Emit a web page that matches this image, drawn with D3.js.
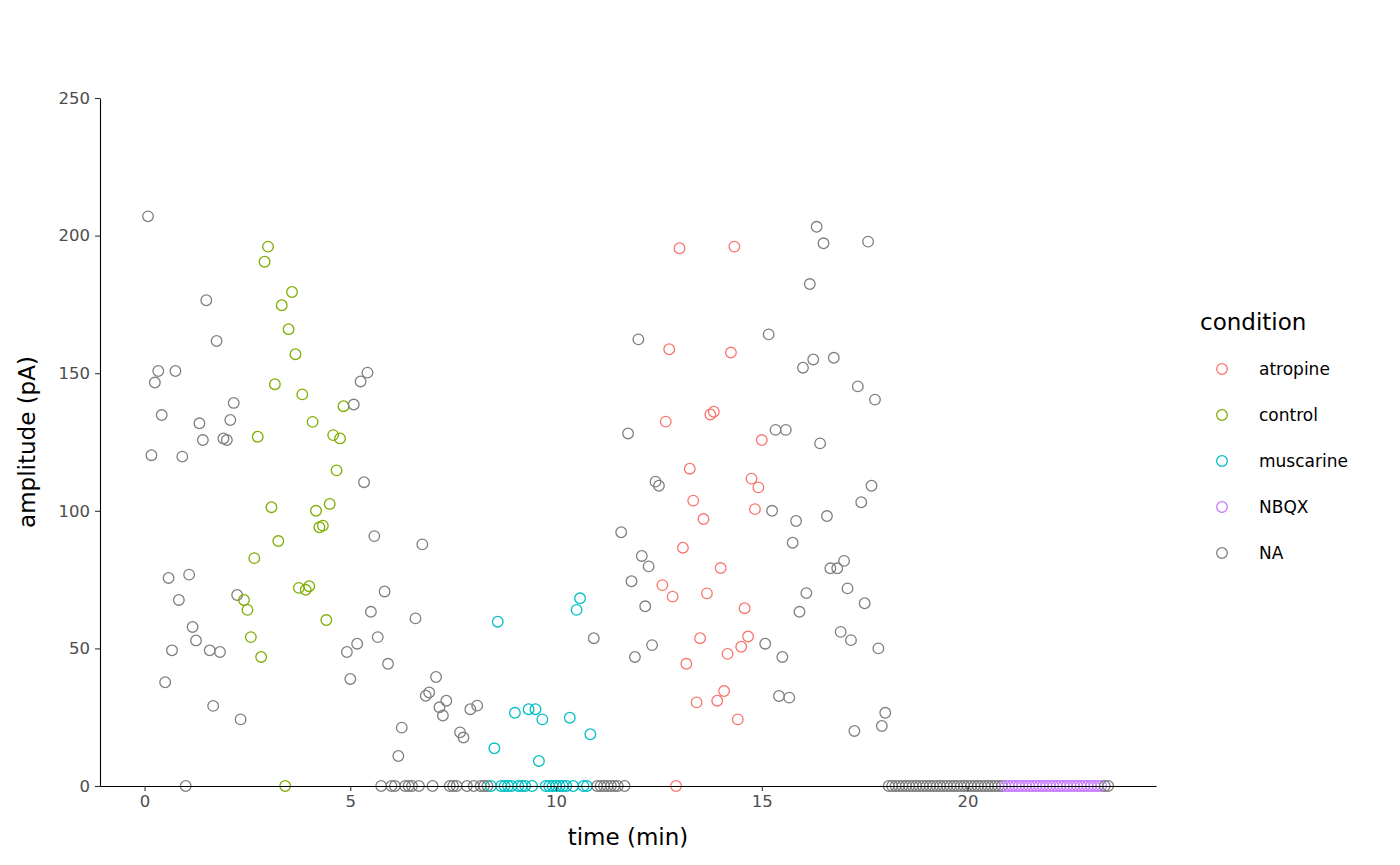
<!DOCTYPE html>
<html>
<head>
<meta charset="utf-8">
<script src="https://cdn.jsdelivr.net/npm/d3@7"></script>
<style>
  body { margin: 0; background: #fff; }
  svg text { font-family: "DejaVu Sans", sans-serif; }
</style>
</head>
<body>
<svg id="chart" width="1400" height="865"></svg>
<script>
// recording times, seconds from start
var timeSec = [
    5, 10, 15, 20, 25, 30, 35, 40, 45, 50, 55, 60, 65, 70, 75, 80, 85, 90, 95, 100,
  105,110,115,120,125,130,135,140,145,150,155,160,165,170,175,180,185,190,195,200,
  205,210,215,220,225,230,235,240,245,250,255,260,265,270,275,280,285,290,295,300,
  305,310,315,320,325,330,335,340,345,350,355,360,365,370,375,380,385,390,395,400,
  405,410,415,420,425,430,435,440,445,450,455,460,465,470,475,480,485,490,495,500,
  505,510,515,520,525,530,535,540,545,550,555,560,565,570,575,580,585,590,595,600,
  605,610,615,620,625,630,635,640,645,650,655,660,665,670,675,680,685,690,695,700,
  705,710,715,720,725,730,735,740,745,750,755,760,765,770,775,780,785,790,795,800,
  805,810,815,820,825,830,835,840,845,850,855,860,865,870,875,880,885,890,895,900,
  905,910,915,920,925,930,935,940,945,950,955,960,965,970,975,980,985,990,995,1000,
  1005,1010,1015,1020,1025,1030,1035,1040,1045,1050,1055,1060,1065,1070,1075,1080,1085,1090,1095,1100,
  1105,1110,1115,1120,1125,1130,1135,1140,1145,1150,1155,1160,1165,1170,1175,1180,1185,1190,1195,1200,
  1205,1210,1215,1220,1225,1230,1235,1240,1245,1250,1255,1260,1265,1270,1275,1280,1285,1290,1295,1300,
  1305,1310,1315,1320,1325,1330,1335,1340,1345,1350,1355,1360,1365,1370,1375,1380,1385,1390,1395,1400,
  1405
];

// event amplitude (pA)
var amplitude = [
  207, 120.2, 146.6, 150.8, 134.8, 37.7, 75.6, 49.3, 150.8, 67.6,
  119.7, 0, 76.8, 57.8, 52.9, 131.8, 125.7, 176.5, 49.3, 29.1,
  161.7, 48.7, 126.3, 125.7, 133, 139.2, 69.4, 24.2, 67.6, 64,
  54.1, 82.8, 126.9, 46.9, 190.5, 196, 101.3, 146, 89, 174.7,
  0, 166, 179.5, 156.9, 72, 142.3, 71.3, 72.6, 132.3, 100,
  94, 94.6, 60.3, 102.5, 127.5, 114.7, 126.3, 138, 48.7, 38.9,
  138.6, 51.7, 147, 110.4, 150.2, 63.3, 90.8, 54.1, 0, 70.7,
  44.4, 0, 0, 10.9, 21.2, 0, 0, 0, 60.9, 0,
  87.8, 32.8, 34, 0, 39.6, 28.6, 25.6, 31, 0, 0,
  0, 19.5, 17.6, 0, 27.9, 0, 29.2, 0, 0, 0,
  0, 13.7, 59.7, 0, 0, 0, 0, 26.6, 0, 0,
  0, 27.9, 0, 27.9, 9.1, 24.2, 0, 0, 0, 0,
  0, 0, 0, 24.8, 0, 64, 68.2, 0, 0, 18.8,
  53.7, 0, 0, 0, 0, 0, 0, 0, 92.2, 0,
  128.1, 74.4, 46.9, 162.3, 83.6, 65.3, 79.8, 51.2, 110.6, 109.1,
  73, 132.4, 158.7, 68.8, 0, 195.4, 86.6, 44.4, 115.3, 103.7,
  30.4, 53.7, 97, 70, 135, 136, 31, 79.2, 34.5, 48,
  157.5, 196, 24.2, 50.6, 64.6, 54.3, 111.7, 100.6, 108.5, 125.7,
  51.7, 164.1, 100, 129.4, 32.7, 46.9, 129.4, 32.1, 88.4, 96.3,
  63.3, 152, 70.1, 182.4, 155, 203.2, 124.5, 197.2, 98.1, 79.1,
  155.6, 79.1, 56, 81.8, 71.8, 53, 20, 145.2, 103.1, 66.4,
  197.8, 109.1, 140.4, 50, 21.8, 26.6, 0, 0, 0, 0,
  0, 0, 0, 0, 0, 0, 0, 0, 0, 0,
  0, 0, 0, 0, 0, 0, 0, 0, 0, 0,
  0, 0, 0, 0, 0, 0, 0, 0, 0, 0,
  0, 0, 0, 0, 0, 0, 0, 0, 0, 0,
  0, 0, 0, 0, 0, 0, 0, 0, 0, 0,
  0, 0, 0, 0, 0, 0, 0, 0, 0, 0,
  0
];

// condition of each event (null = NA)
var N = null, C = "control", M = "muscarine", A = "atropine", B = "NBQX";
var condition = [
  N,N,N,N,N,N,N,N,N,N, N,N,N,N,N,N,N,N,N,N, N,N,N,N,N,N,N,N,C,C,
  C,C,C,C,C,C,C,C,C,C, C,C,C,C,C,C,C,C,C,C, C,C,C,C,C,C,C,C,N,N,
  N,N,N,N,N,N,N,N,N,N, N,N,N,N,N,N,N,N,N,N, N,N,N,N,N,N,N,N,N,N,
  N,N,N,N,N,N,N,N,N,N, M,M,M,M,M,M,M,M,M,M, M,M,M,M,M,M,M,M,M,M,
  M,M,M,M,M,M,M,M,M,M, N,N,N,N,N,N,N,N,N,N, N,N,N,N,N,N,N,N,N,N,
  A,A,A,A,A,A,A,A,A,A, A,A,A,A,A,A,A,A,A,A, A,A,A,A,A,A,A,A,A,A,
  N,N,N,N,N,N,N,N,N,N, N,N,N,N,N,N,N,N,N,N, N,N,N,N,N,N,N,N,N,N,
  N,N,N,N,N,N,N,N,N,N, N,N,N,N,N,N,N,N,N,N, N,N,N,N,N,N,N,N,N,N,
  N,N,N,N,N,N,N,N,N,N, B,B,B,B,B,B,B,B,B,B, B,B,B,B,B,B,B,B,B,B,
  B,B,B,B,B,B,B,B,B,N, N
];

var legendLabels = ["atropine", "control", "muscarine", "NBQX", "NA"];
var legendColors = ["#F8766D", "#7CAE00", "#00BFC4", "#C77CFF", "#7F7F7F"];
var xTicks = [0, 5, 10, 15, 20];
var yTicks = [0, 50, 100, 150, 200, 250];

var svg = d3.select("#chart");

var panel = {left: 100, right: 1156, top: 98, bottom: 786};

// ggplot style 5% expansion on x, fixed 0-250 on y
var xScale = d3.scaleLinear().domain([-1.083, 24.58]).range([panel.left, panel.right]);
var yScale = d3.scaleLinear().domain([0, 250]).range([panel.bottom, panel.top]);

var colorOf = function (c) {
    if (c === null) return "#7F7F7F";
    return legendColors[legendLabels.indexOf(c)];
};

var points = timeSec.map(function (t, i) {
    return {minutes: t / 60, amp: amplitude[i], cond: condition[i]};
});

svg.append("g")
    .selectAll("circle")
    .data(points)
    .enter().append("circle")
    .attr("cx", function (d) { return xScale(d.minutes); })
    .attr("cy", function (d) { return yScale(d.amp); })
    .attr("r", 5.3)
    .attr("fill", "none")
    .attr("stroke", function (d) { return colorOf(d.cond); })
    .attr("stroke-width", 1.3);

var xAxis = svg.append("g")
    .attr("transform", "translate(0," + panel.bottom + ")")
    .call(d3.axisBottom(xScale).tickValues(xTicks).tickSize(5).tickSizeOuter(0).tickPadding(4));

var yAxis = svg.append("g")
    .attr("transform", "translate(" + panel.left + ",0)")
    .call(d3.axisLeft(yScale).tickValues(yTicks).tickSize(5).tickSizeOuter(0).tickPadding(5));

[xAxis, yAxis].forEach(function (ax) {
    ax.select(".domain").attr("stroke", "#000").attr("stroke-width", 1.1);
    ax.selectAll(".tick line").attr("stroke", "#333").attr("stroke-width", 1.1);
    ax.selectAll(".tick text").attr("fill", "#4D4D4D").style("font-size", "16.5px");
});

svg.append("text")
    .attr("x", (panel.left + panel.right) / 2)
    .attr("y", 845)
    .attr("text-anchor", "middle")
    .style("font-size", "23px")
    .text("time (min)");

svg.append("text")
    .attr("transform", "translate(35," + ((panel.top + panel.bottom) / 2) + ") rotate(-90)")
    .attr("text-anchor", "middle")
    .style("font-size", "23px")
    .text("amplitude (pA)");

// legend
var legend = svg.append("g").attr("transform", "translate(1200,0)");
legend.append("text")
    .attr("x", 0).attr("y", 330)
    .style("font-size", "23px")
    .text("condition");

var keys = legend.selectAll("g.key")
    .data(legendLabels)
    .enter().append("g")
    .attr("class", "key")
    .attr("transform", function (d, i) { return "translate(0," + (369 + i * 46) + ")"; });

keys.append("circle")
    .attr("cx", 22).attr("cy", 0).attr("r", 5.3)
    .attr("fill", "none")
    .attr("stroke", function (d, i) { return legendColors[i]; })
    .attr("stroke-width", 1.3);

keys.append("text")
    .attr("x", 59).attr("y", 0).attr("dy", "0.35em")
    .style("font-size", "17px")
    .attr("fill", "#000")
    .text(function (d) { return d; });
</script>
</body>
</html>
